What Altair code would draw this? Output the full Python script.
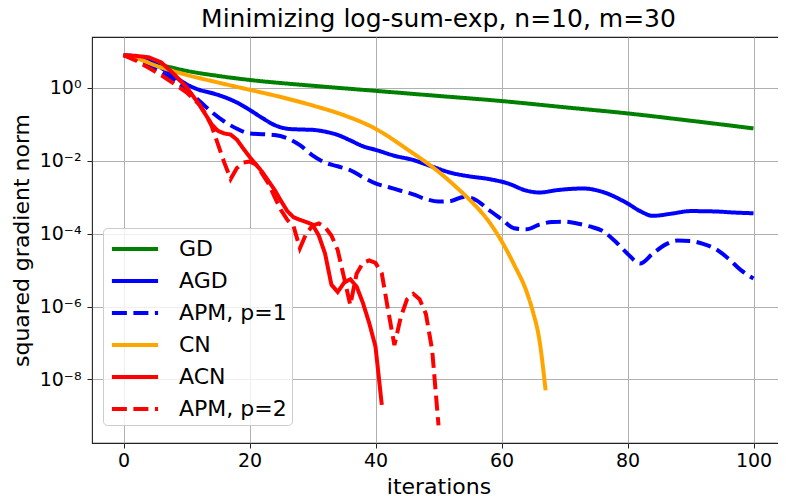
import altair as alt
import pandas as pd

FONT = "DejaVu Sans"

series_names = ["GD", "AGD", "APM, p=1", "CN", "ACN", "APM, p=2"]
series_colors = ["#008000", "#0000ff", "#0000ff", "#ffa500", "#ff0000", "#ff0000"]
series_dashes = [[1, 0], [1, 0], [15, 6.5], [1, 0], [1, 0], [15, 6.5]]

x_ticks = [0, 20, 40, 60, 80, 100]
y_ticks = [1e-8, 1e-6, 1e-4, 1e-2, 1.0]

gd_iter = [0, 2, 5, 10, 15, 20, 30, 40, 50, 60, 70, 80, 90, 100]
gd_vals = [7.94, 6.76, 4.79, 2.95, 2.14, 1.66, 1.15, 0.832, 0.603, 0.437, 0.295, 0.200, 0.126, 0.0776]

agd_iter = [0, 2, 4, 6, 8, 10, 12, 14, 16, 18, 20, 22, 24, 26, 28, 30, 32, 34, 36, 38, 40,
            43, 46, 49, 52, 55, 58, 61, 64, 66, 69, 73, 76, 80, 82, 84, 87, 90, 94, 97, 100]
agd_vals = [7.94, 7.24, 5.62, 3.55, 2.14, 1.26, 0.891, 0.724, 0.562, 0.398, 0.251, 0.151, 0.0955,
            0.0759, 0.0724, 0.0708, 0.0631, 0.0513, 0.0363, 0.0251, 0.0200, 0.0138, 0.0105, 0.00692,
            0.00468, 0.00372, 0.00316, 0.00240, 0.00151, 0.00135, 0.00158, 0.00174, 0.00141,
            0.000676, 0.000417, 0.000309, 0.000355, 0.000417, 0.000407, 0.000380, 0.000363]

apm1_iter = list(range(0, 101, 2))
apm1_vals = [7.94, 6.31, 4.17, 2.63, 1.66, 0.891, 0.447, 0.219, 0.120, 0.0759, 0.0562, 0.0537,
             0.0513, 0.0417, 0.0269, 0.0141, 0.00891, 0.00708, 0.00550, 0.00355, 0.00240, 0.00191,
             0.00151, 0.00120, 0.000891, 0.000759, 0.000794, 0.00102, 0.000832, 0.000447, 0.000251,
             0.000141, 0.000132, 0.000178, 0.000209, 0.000214, 0.000191, 0.000158, 0.000120,
             6.31e-5, 2.82e-5, 1.51e-5, 2.82e-5, 5.01e-5, 6.46e-5, 6.31e-5, 5.25e-5, 3.80e-5,
             2.09e-5, 1.0e-5, 5.89e-6]

cn_iter = [0, 2, 5, 10, 15, 20, 25, 30, 35, 40, 45, 50, 53, 55, 58, 60, 62, 64, 65, 66, 67]
cn_vals = [7.94, 6.61, 4.17, 2.29, 1.41, 0.891, 0.562, 0.331, 0.178, 0.0759, 0.0209, 0.00501,
           0.00178, 0.000832, 0.000214, 6.31e-5, 1.41e-5, 2.51e-6, 7.08e-7, 1.26e-7, 5.01e-9]

acn_iter = [0, 2, 4, 6, 8, 10, 12, 14, 15, 16, 17, 18, 19, 20, 22, 24, 25, 26, 27, 28, 29, 30,
            31, 32, 33, 34, 35, 36, 37, 38, 39, 40, 41]
acn_vals = [7.94, 7.59, 6.92, 5.01, 2.40, 1.05, 0.355, 0.100, 0.0661, 0.0562, 0.0525, 0.0380,
            0.0219, 0.0129, 0.00501, 0.00158, 0.000794, 0.000417, 0.000282, 0.000240, 0.000209,
            0.000178, 8.91e-5, 2.82e-5, 3.98e-6, 2.51e-6, 4.47e-6, 5.62e-6, 3.55e-6, 1.26e-6,
            3.55e-7, 7.94e-8, 2.0e-9]

apm2_iter = [0, 2, 4, 6, 8, 10, 12] + list(range(13, 51))
apm2_vals = [7.94, 5.62, 3.55, 2.24, 1.32, 0.759, 0.355, 0.200, 0.0891, 0.0282, 0.00891, 0.00316,
             0.00631, 0.00891, 0.00955, 0.00794, 0.00447, 0.00240, 0.00100, 0.000447, 0.000240,
             0.000158, 3.98e-5, 1.0e-4, 0.000166, 0.000191, 0.000151, 8.91e-5, 3.55e-5, 6.31e-6,
             1.10e-6, 7.94e-6, 1.58e-5, 1.86e-5, 1.58e-5, 8.13e-6, 7.94e-7, 8.71e-8, 5.01e-7,
             1.58e-6, 2.24e-6, 1.58e-6, 6.31e-7, 6.31e-8, 5.5e-10]

all_series = [
    ("GD", gd_iter, gd_vals),
    ("AGD", agd_iter, agd_vals),
    ("APM, p=1", apm1_iter, apm1_vals),
    ("CN", cn_iter, cn_vals),
    ("ACN", acn_iter, acn_vals),
    ("APM, p=2", apm2_iter, apm2_vals),
]

rows = []
for name, its, vals in all_series:
    for i, v in zip(its, vals):
        rows.append({"series": name, "iteration": i, "value": v})
df = pd.DataFrame(rows)

color_scale = alt.Scale(domain=series_names, range=series_colors)
dash_scale = alt.Scale(domain=series_names, range=series_dashes)

legend = alt.Legend(
    title=None, orient="none", legendX=11, legendY=191,
    symbolType="M-1.65,0H1.65", symbolSize=784, symbolStrokeWidth=4,
    symbolOffset=11, labelOffset=28,
    labelFontSize=22, labelFont=FONT, labelColor="black",
    padding=5, rowPadding=5,
    fillColor="rgba(255,255,255,0.8)", strokeColor="#cccccc", cornerRadius=4,
)

x_enc = alt.X(
    "iteration:Q",
    scale=alt.Scale(domain=[-5, 105], nice=False, zero=False),
    axis=alt.Axis(values=x_ticks, title="iterations", titleFontSize=22, titleFont=FONT,
                  titleFontWeight="normal", titleColor="black",
                  titleBaseline="alphabetic", titleY=50,
                  labelFontSize=19, labelFont=FONT, labelColor="black", labelPadding=3,
                  tickSize=5, tickColor="#222", domain=False, gridColor="#b0b0b0",
                  gridWidth=1),
)
y_enc = alt.Y(
    "value:Q",
    scale=alt.Scale(type="log", domain=[1.8e-10, 25], nice=False),
    axis=alt.Axis(values=y_ticks, title="squared gradient norm",
                  labelExpr="['10⁻⁸','','10⁻⁶','','10⁻⁴','','10⁻²','','10⁰'][round(log(datum.value)/LN10)+8]",
                  titleFontSize=22, titleFont=FONT, titleFontWeight="normal", titleColor="black",
                  titleAngle=-90, titleX=-71, titleY=203, titleAlign="center",
                  titleBaseline="middle",
                  labelFontSize=19, labelFont=FONT, labelColor="black", labelPadding=6,
                  tickSize=5, tickColor="#222", domain=False, gridColor="#b0b0b0",
                  gridWidth=1),
)

layers = []
for name in series_names:
    interp = "linear" if name in ("ACN", "APM, p=2") else "monotone"
    layers.append(
        alt.Chart(df)
        .transform_filter(alt.datum.series == name)
        .mark_line(strokeWidth=4, interpolate=interp)
        .encode(
            x=x_enc,
            y=y_enc,
            color=alt.Color("series:N", scale=color_scale, legend=legend),
            strokeDash=alt.StrokeDash("series:N", scale=dash_scale, legend=legend),
        )
    )

chart = (
    alt.layer(*layers)
    .properties(
        width=693, height=406,
        title=alt.TitleParams("Minimizing log-sum-exp, n=10, m=30", fontSize=25, font=FONT,
                              fontWeight="normal", color="black", frame="group",
                              offset=5),
        autosize=alt.AutoSizeParams(type="none"),
        padding={"left": 84, "top": 29, "right": -7, "bottom": 52},
    )
    .configure_view(stroke="#222", strokeWidth=1.1)
)

chart.save("out.html", embed_options={"renderer": "svg", "actions": False})
